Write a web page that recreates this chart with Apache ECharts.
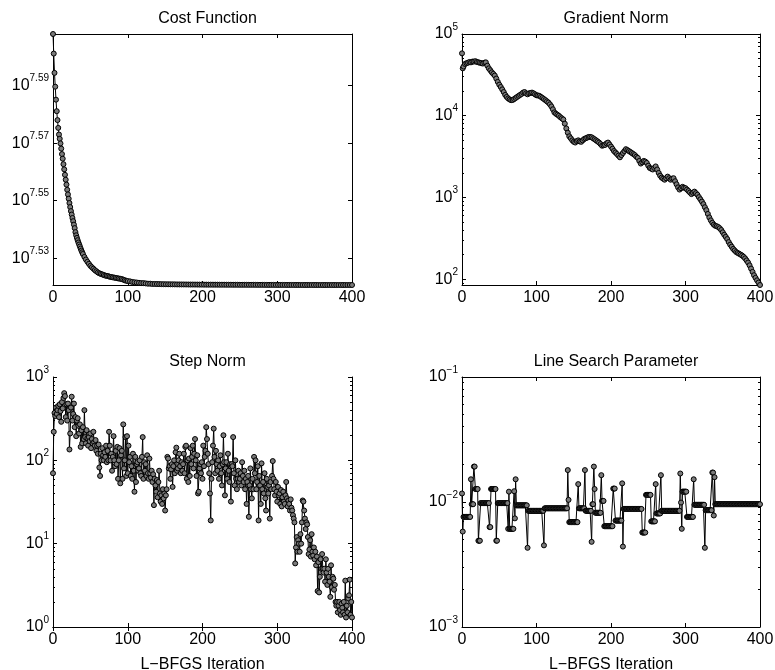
<!DOCTYPE html>
<html>
<head>
<meta charset="utf-8">
<script src="https://cdn.jsdelivr.net/npm/echarts@6/dist/echarts.min.js"></script>
<style>
  html, body { margin: 0; padding: 0; background: #fff; }
  #chart { width: 775px; height: 670px; }
</style>
</head>
<body>
<div id="chart"></div>
<script>
// ---- L-BFGS convergence history ----

const panelTitles = ['Cost Function', 'Gradient Norm', 'Step Norm', 'Line Search Parameter'];
const iterationLabel = 'L\u2212BFGS Iteration';
const iterationTicks = [0, 100, 200, 300, 400];

// cost function: [iteration, log10(cost)]
const costHistory = [
  [0,7.6079],[1,7.6011],[2,7.5944],[3,7.5896],[4,7.5851],[5,7.5811],[6,7.5780],[7,7.5753],
  [8,7.5730],[9,7.5715],[10,7.5699],[11,7.5681],[12,7.5662],[13,7.5646],[14,7.5627],[15,7.5609],
  [16,7.5590],[17,7.5573],[18,7.5556],[19,7.5538],[20,7.5522],[21,7.5507],[22,7.5492],[23,7.5478],
  [24,7.5464],[25,7.5452],[26,7.5440],[27,7.5429],[28,7.5417],[29,7.5405],[30,7.5391],[31,7.5380],
  [32,7.5371],[33,7.5363],[34,7.5355],[35,7.5348],[36,7.5341],[37,7.5334],[38,7.5327],[39,7.5321],
  [40,7.5315],[42,7.5305],[44,7.5296],[46,7.5288],[48,7.5281],[50,7.5274],[52,7.5269],[54,7.5264],
  [56,7.5259],[58,7.5255],[60,7.5251],[62,7.5248],[64,7.5246],[66,7.5244],[68,7.5242],[70,7.5240],
  [72,7.5239],[74,7.5238],[76,7.5236],[78,7.5235],[80,7.5234],[82,7.5233],[84,7.5232],[86,7.5231],
  [88,7.5230],[90,7.5229],[92,7.5228],[94,7.5226],[96,7.5224],[98,7.5222],[100,7.5221],
  [103,7.5220],[106,7.5218],[109,7.5217],[112,7.5216],[115,7.5215],[118,7.5214],[121,7.5214],
  [124,7.5213],[127,7.5212],[130,7.5212],[133,7.5211],[136,7.5211],[139,7.52108],[142,7.52106],
  [145,7.52104],[148,7.52102],[151,7.52100],[154,7.52099],[157,7.52098],[160,7.52097],[163,7.52096],
  [166,7.52095],[169,7.52094],[172,7.52093],[175,7.52093],[178,7.52092],[181,7.52091],[184,7.52090],
  [187,7.52090],[190,7.52089],[193,7.52089],[196,7.52088],[199,7.52088],[202,7.52087],[205,7.52087],
  [208,7.52086],[211,7.52086],[214,7.52085],[217,7.52085],[220,7.52085],[223,7.52084],[226,7.52084],
  [229,7.52084],[232,7.52083],[235,7.52083],[238,7.52083],[241,7.52082],[244,7.52082],[247,7.52082],
  [250,7.52081],[253,7.52081],[256,7.52081],[259,7.52080],[262,7.52080],[265,7.52080],[268,7.52080],
  [271,7.52079],[274,7.52079],[277,7.52079],[280,7.52079],[283,7.52078],[286,7.52078],[289,7.52078],
  [292,7.52078],[295,7.52078],[298,7.52077],[301,7.52077],[304,7.52077],[307,7.52077],[310,7.52077],
  [313,7.52076],[316,7.52076],[319,7.52076],[322,7.52076],[325,7.52076],[328,7.52076],[331,7.52075],
  [334,7.52075],[337,7.52075],[340,7.52075],[343,7.52075],[346,7.52075],[349,7.52075],[352,7.52075],
  [355,7.52074],[358,7.52074],[361,7.52074],[364,7.52074],[367,7.52074],[370,7.52074],[373,7.52074],
  [376,7.52074],[379,7.52074],[382,7.52074],[385,7.52074],[388,7.52074],[391,7.52074],[394,7.52074],
  [397,7.52074],[400,7.52074]
];
const costTicks = [7.53, 7.55, 7.57, 7.59];

// gradient norm: [iteration, norm]
const gradHistory = [
  [0,58000],[1,38000],[2,40000],[4,43000],[6,44000],[8,44500],[10,45500],[12,45000],[14,46000],
  [16,46000],[18,46500],[20,45500],[22,45000],[24,44500],[26,44000],[28,43500],[30,44500],
  [32,45000],[34,41000],[36,38000],[38,36000],[40,34000],[42,32500],[44,31000],[46,28500],
  [48,26000],[50,24000],[52,22500],[54,21000],[56,19500],[58,18000],[60,17000],[62,16300],
  [64,15800],[66,15500],[68,15600],[70,16000],[72,16500],[74,17000],[76,17500],[78,18000],
  [80,18500],[82,19200],[84,19500],[86,18800],[88,18300],[90,18800],[92,19000],[94,19200],
  [96,18800],[98,18300],[100,17800],[102,17700],[104,17500],[106,17000],[108,16500],[110,16000],
  [112,15500],[114,15000],[116,14500],[118,13800],[120,13000],[122,12000],[124,11000],[126,10600],
  [128,10300],[130,10000],[132,9600],[134,9300],[136,9000],[138,8000],[140,7000],[142,6200],
  [144,5600],[146,5300],[148,5000],[150,4800],[152,4700],[154,4900],[156,5000],[158,4850],
  [160,4800],[162,5000],[164,5200],[166,5300],[168,5400],[170,5500],[172,5500],[174,5450],
  [176,5300],[178,5150],[180,5000],[182,4850],[184,4700],[186,4500],[188,4300],[190,4350],
  [192,4400],[194,4600],[196,4700],[198,4450],[200,4200],[202,3950],[204,3700],[206,3550],
  [208,3400],[210,3250],[212,3100],[214,3300],[216,3500],[218,3700],[220,3900],[222,3800],
  [224,3700],[226,3600],[228,3500],[230,3400],[232,3300],[234,3150],[236,3050],[238,2800],
  [240,2600],[242,2700],[244,2800],[246,2750],[248,2650],[250,2450],[252,2300],[254,2250],
  [256,2200],[258,2300],[260,2400],[262,2200],[264,2000],[266,1850],[268,1750],[270,1700],
  [272,1650],[274,1720],[276,1800],[278,1720],[280,1650],[282,1700],[284,1720],[286,1580],
  [288,1450],[290,1330],[292,1250],[294,1300],[296,1350],[298,1320],[300,1300],[302,1250],
  [304,1200],[306,1150],[308,1100],[310,1140],[312,1180],[314,1130],[316,1080],[318,1010],
  [320,950],[322,890],[324,830],[326,760],[328,700],[330,630],[332,570],[334,525],[336,490],
  [338,465],[340,450],[342,445],[344,435],[346,420],[348,400],[350,375],[352,350],[354,330],
  [356,310],[358,285],[360,265],[362,250],[364,235],[366,225],[368,215],[370,210],[372,205],
  [374,200],[376,195],[378,188],[380,180],[382,170],[384,160],[386,148],[388,135],[390,123],
  [392,112],[394,104],[396,97],[398,91],[400,85]
];
const gradTicks = [2, 3, 4, 5];

// step norm, one value per iteration 0..400
const stepNorm = [
  70,220,370,340,430,360,400,450,330,470,
  390,290,500,420,560,640,590,330,470,300,
  480,400,135,210,430,580,300,360,480,250,
  330,195,300,320,260,210,270,145,230,160,
  250,180,400,190,160,230,185,150,190,170,
  210,140,180,160,220,165,150,175,130,150,
  120,155,82,65,120,100,140,115,100,125,
  110,150,95,130,100,220,150,100,120,75,
  110,195,100,85,130,90,145,60,100,140,
  53,115,130,60,270,80,100,190,65,195,
  70,150,95,110,65,85,60,120,75,42,
  110,55,90,95,75,80,100,70,65,110,
  190,60,95,75,90,65,115,70,60,105,
  70,62,75,55,68,29,60,50,42,58,
  36,55,75,40,32,38,30,45,35,40,
  25,38,45,110,105,80,85,60,78,90,
  48,85,100,70,125,142,75,80,100,120,
  85,70,95,75,90,120,70,145,150,60,
  100,55,105,65,140,90,110,150,80,120,
  180,100,65,115,40,42,80,90,70,95,
  60,150,85,110,130,250,180,120,90,70,
  40,19,60,95,150,240,110,70,130,90,
  75,100,60,85,115,70,50,90,200,95,
  38,80,95,60,120,75,55,90,32,90,
  85,190,70,50,100,60,45,60,75,55,
  60,70,50,95,65,55,75,45,60,30,
  55,65,21,50,80,45,35,60,45,110,
  70,100,45,55,85,19,65,50,30,92,
  45,55,40,70,35,25,60,48,40,50,
  20,55,45,65,98,60,45,38,55,42,
  32,48,38,40,30,44,28,36,42,32,
  30,38,55,35,28,33,30,25,34,27,
  25,22,20,18,5.8,9,12,8,11,10,
  8,13,10,18,33,32,25,20,15,18,
  17,12,7.5,8.5,11,7,13,8,7.2,9,
  6.5,8,5.5,7,2.7,6,2.6,4,6.5,5,
  7.5,5,4.5,5,3.5,6.5,4.5,3.2,5,4,
  3.5,2.3,5.5,3,4,3.8,2.8,3.2,2,1.8,
  2,1.5,1.8,2,1.6,1.4,1.9,1.7,1.5,2,
  1.4,3.6,1.3,1.8,1.5,2.2,2.4,3.7,1.4,2,
  1.3
];
const stepTicks = [0, 1, 2, 3];

// line search parameter, one value per iteration 0..400
const lineSearch = [
  0.0117,0.0058,0.0076,0.0076,0.0076,0.0076,0.0076,0.0076,0.0076,0.0076,
  0.0076,0.0076,0.0152,0.0096,0.0096,0.0096,0.0192,0.0192,0.0127,0.0127,
  0.0127,0.0127,0.0049,0.0049,0.0049,0.0098,0.0098,0.0098,0.0098,0.0098,
  0.0098,0.0098,0.0098,0.0098,0.0098,0.0098,0.0098,0.0063,0.0063,0.0127,
  0.0127,0.0127,0.0127,0.0127,0.0127,0.0127,0.0049,0.0049,0.0098,0.0098,
  0.0098,0.0098,0.0098,0.0098,0.0098,0.0098,0.0098,0.0098,0.0098,0.0098,
  0.0098,0.0098,0.0061,0.0121,0.0061,0.0061,0.0061,0.0061,0.0061,0.0061,
  0.0122,0.0074,0.0152,0.0094,0.0094,0.0094,0.0094,0.0094,0.0094,0.0094,
  0.0094,0.0094,0.0094,0.0094,0.0094,0.0094,0.0094,0.0094,0.0043,0.0085,
  0.0085,0.0085,0.0085,0.0085,0.0085,0.0085,0.0085,0.0085,0.0085,0.0085,
  0.0085,0.0085,0.0085,0.0085,0.0085,0.0085,0.0085,0.0085,0.0085,0.0085,
  0.0045,0.0089,0.0089,0.0089,0.0089,0.0089,0.0089,0.0089,0.0089,0.0089,
  0.0089,0.0089,0.0089,0.0089,0.0089,0.0089,0.0089,0.0089,0.0089,0.0089,
  0.0089,0.0089,0.0089,0.0089,0.0089,0.0089,0.0089,0.0089,0.0089,0.0089,
  0.0089,0.0089,0.0180,0.0104,0.0069,0.0069,0.0069,0.0069,0.0069,0.0069,
  0.0069,0.0069,0.0069,0.0069,0.0069,0.0069,0.0139,0.0089,0.0089,0.0089,
  0.0089,0.0089,0.0089,0.0089,0.0089,0.0180,0.0085,0.0085,0.0085,0.0085,
  0.0085,0.0085,0.0085,0.0085,0.0048,0.0096,0.0096,0.0192,0.0127,0.0082,
  0.0082,0.0082,0.0082,0.0082,0.0082,0.0082,0.0082,0.0164,0.0102,0.0102,
  0.0102,0.0064,0.0064,0.0064,0.0064,0.0064,0.0064,0.0064,0.0064,0.0064,
  0.0064,0.0064,0.0064,0.0128,0.0128,0.0128,0.0071,0.0071,0.0071,0.0071,
  0.0071,0.0071,0.0071,0.0071,0.0071,0.0141,0.0044,0.0088,0.0088,0.0088,
  0.0088,0.0088,0.0088,0.0088,0.0088,0.0088,0.0088,0.0088,0.0088,0.0088,
  0.0088,0.0088,0.0088,0.0088,0.0088,0.0088,0.0088,0.0088,0.0088,0.0088,
  0.0088,0.0088,0.0057,0.0057,0.0057,0.0057,0.0057,0.0114,0.0114,0.0114,
  0.0114,0.0114,0.0114,0.0114,0.0070,0.0070,0.0070,0.0070,0.0070,0.0070,
  0.0139,0.0081,0.0081,0.0081,0.0081,0.0081,0.0081,0.0164,0.0085,0.0085,
  0.0085,0.0085,0.0085,0.0085,0.0085,0.0085,0.0085,0.0085,0.0085,0.0085,
  0.0085,0.0085,0.0085,0.0085,0.0085,0.0085,0.0085,0.0085,0.0085,0.0085,
  0.0085,0.0085,0.0085,0.0169,0.0099,0.0061,0.0121,0.0121,0.0121,0.0121,
  0.0121,0.0121,0.0076,0.0076,0.0076,0.0076,0.0076,0.0076,0.0076,0.0076,
  0.0076,0.0152,0.0095,0.0095,0.0095,0.0095,0.0095,0.0095,0.0095,0.0095,
  0.0095,0.0095,0.0095,0.0095,0.0095,0.0095,0.0043,0.0086,0.0086,0.0086,
  0.0086,0.0086,0.0086,0.0086,0.0086,0.0086,0.0172,0.0172,0.0078,0.0158,
  0.0096,0.0096,0.0096,0.0096,0.0096,0.0096,0.0096,0.0096,0.0096,0.0096,
  0.0096,0.0096,0.0096,0.0096,0.0096,0.0096,0.0096,0.0096,0.0096,0.0096,
  0.0096,0.0096,0.0096,0.0096,0.0096,0.0096,0.0096,0.0096,0.0096,0.0096,
  0.0096,0.0096,0.0096,0.0096,0.0096,0.0096,0.0096,0.0096,0.0096,0.0096,
  0.0096,0.0096,0.0096,0.0096,0.0096,0.0096,0.0096,0.0096,0.0096,0.0096,
  0.0096,0.0096,0.0096,0.0096,0.0096,0.0096,0.0096,0.0096,0.0096,0.0096,
  0.0096
];
const lineTicks = [-3, -2, -1];

// ---- layout & styling ----
const FONT = '"Liberation Sans", Arial, Helvetica, sans-serif';
const BLACK = '#000';

const panelBoxes = [
  { left: 53, top: 34, width: 299, height: 251 },
  { left: 462, top: 34, width: 298, height: 251 },
  { left: 53, top: 377, width: 299, height: 250 },
  { left: 462, top: 377, width: 298, height: 250 }
];

// minor tick exponents (2..9 times each decade) between lo and hi
function minorLogTicks(lo, hi) {
  const out = [];
  for (let d = Math.floor(lo); d < Math.ceil(hi); d++) {
    for (let k = 2; k <= 9; k++) {
      const v = d + Math.log10(k);
      if (v > lo && v < hi) out.push(v);
    }
  }
  return out;
}

function powerLabel(digits) {
  return function (v) {
    const exp = digits > 0 ? v.toFixed(digits) : String(Math.round(v));
    return '{b|10}{s|' + exp.replace('-', '\u2212') + '}';
  };
}

const labelRich = {
  b: { fontSize: 16, fontFamily: FONT, color: BLACK },
  s: { fontSize: 10, fontFamily: FONT, color: BLACK, padding: [0, 0, 14, 0] }
};

const logPairs = pairs => pairs.map(d => [d[0], Math.log10(d[1])]);
const perIterLog = ys => ys.map((v, i) => [i, Math.log10(v)]);
const costExps = costHistory.map(d => d[1]);
const gradValues = gradHistory.map(d => d[1]);

const panels = [
  {
    data: costHistory,
    min: Math.min(...costExps), max: Math.max(...costExps),
    majors: costTicks, minors: [], label: powerLabel(2)
  },
  {
    data: logPairs(gradHistory),
    min: Math.log10(Math.min(...gradValues)), max: 5,
    majors: gradTicks, label: powerLabel(0)
  },
  {
    data: perIterLog(stepNorm),
    min: 0, max: 3,
    majors: stepTicks, label: powerLabel(0)
  },
  {
    data: perIterLog(lineSearch),
    min: -3, max: -1,
    majors: lineTicks, label: powerLabel(0)
  }
];
panels.forEach(p => { if (!p.minors) p.minors = minorLogTicks(p.min, p.max); });

const grid = [], xAxis = [], yAxis = [], series = [], title = [];

panels.forEach((p, g) => {
  const box = panelBoxes[g];
  grid.push(Object.assign({ containLabel: false, outerBoundsMode: 'none' }, box));

  title.push({
    text: panelTitles[g],
    left: box.left + box.width / 2,
    top: box.top - 28,
    textAlign: 'center',
    textStyle: { fontSize: 16, fontWeight: 'normal', color: BLACK, fontFamily: FONT }
  });

  const xCommon = {
    gridIndex: g, type: 'value', min: iterationTicks[0], max: iterationTicks[iterationTicks.length - 1],
    splitLine: { show: false },
    axisLine: { show: true, lineStyle: { color: BLACK, width: 1 } },
    axisTick: { show: true, inside: true, length: 4, customValues: iterationTicks, lineStyle: { color: BLACK } }
  };
  xAxis.push(Object.assign({}, xCommon, {
    position: 'bottom',
    axisLabel: { show: true, customValues: iterationTicks, color: BLACK, fontSize: 16, fontFamily: FONT, margin: 5 },
    name: g >= 2 ? iterationLabel : '',
    nameLocation: 'middle',
    nameGap: 30,
    nameTextStyle: { color: BLACK, fontSize: 16, fontFamily: FONT }
  }));
  xAxis.push(Object.assign({}, xCommon, { position: 'top', axisLabel: { show: false } }));

  const yCommon = {
    gridIndex: g, type: 'value', min: p.min, max: p.max,
    splitLine: { show: false }
  };
  ['left', 'right'].forEach(side => {
    yAxis.push(Object.assign({}, yCommon, {
      position: side,
      axisLine: { show: true, lineStyle: { color: BLACK, width: 1 } },
      axisTick: { show: true, inside: true, length: 4, customValues: p.majors, lineStyle: { color: BLACK } },
      axisLabel: side === 'left'
        ? { show: true, customValues: p.majors, formatter: p.label, rich: labelRich, margin: 4 }
        : { show: false }
    }));
    yAxis.push(Object.assign({}, yCommon, {
      position: side,
      axisLine: { show: false },
      axisTick: { show: p.minors.length > 0, inside: true, length: 2, customValues: p.minors.length ? p.minors : [p.min], lineStyle: { color: BLACK } },
      axisLabel: { show: false }
    }));
  });

  series.push({
    type: 'line',
    xAxisIndex: 2 * g,
    yAxisIndex: 4 * g,
    data: p.data,
    symbol: 'circle',
    symbolSize: 5,
    showSymbol: true,
    clip: false,
    lineStyle: { color: BLACK, width: 1 },
    itemStyle: { color: '#7a7a7a', borderColor: BLACK, borderWidth: 1 },
    emphasis: { disabled: true },
    animation: false,
    silent: true
  });
});

const chart = echarts.init(document.getElementById('chart'), null, { renderer: 'canvas' });
chart.setOption({
  backgroundColor: '#fff',
  animation: false,
  textStyle: { fontFamily: FONT },
  title, grid, xAxis, yAxis, series
});
</script>
</body>
</html>
